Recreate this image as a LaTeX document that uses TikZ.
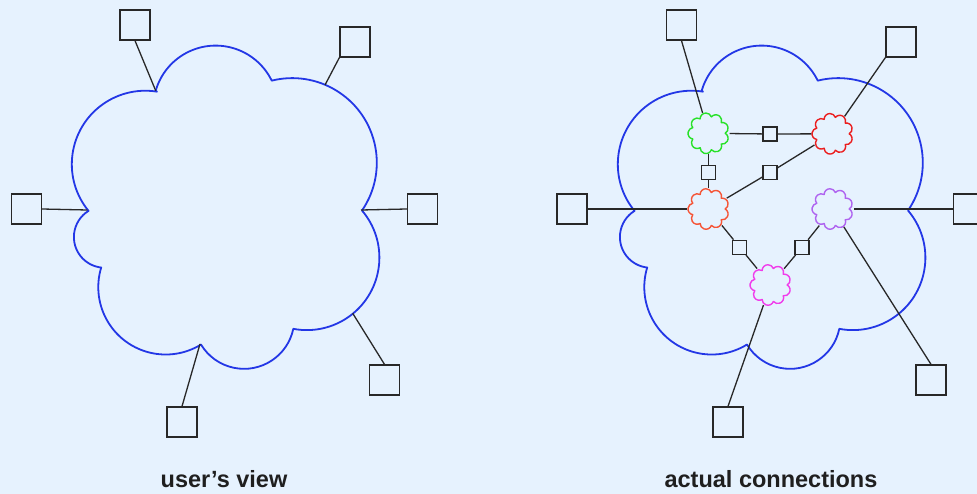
\documentclass[tikz,border=0pt]{standalone}
\usepackage{fontspec}
\setmainfont{Liberation Sans}
\definecolor{bg}{RGB}{230,242,254}
\definecolor{cloudblue}{RGB}{35,55,230}
\definecolor{cgreen}{RGB}{40,225,40}
\definecolor{cred}{RGB}{235,30,30}
\definecolor{corange}{RGB}{245,85,55}
\definecolor{cpurple}{RGB}{175,100,240}
\definecolor{cmagenta}{RGB}{240,60,235}
\definecolor{lineg}{RGB}{40,40,40}
\tikzset{
  bigsq/.style={draw=lineg, line width=1.3pt, minimum size=30pt, inner sep=0pt, fill=bg},
  smallsq/.style={draw=lineg, line width=1.3pt, minimum size=14pt, inner sep=0pt, fill=bg},
  hub/.style={circle, minimum size=42pt, inner sep=0pt},
  conn/.style={draw=lineg, line width=1.3pt},
  cloudline/.style={draw=cloudblue, line width=1.8pt, line join=round},
  label/.style={font=\bfseries\fontsize{23.5}{28}\selectfont, text=black!88, anchor=base, inner sep=0pt}
}
\newcommand\bigcloud[1]{%
  \draw[cloudline, shift={#1}] (155.7,90.7)
    arc[start angle=-163.9, end angle=-26.0, radius=62.4]
    arc[start angle=-104.0, end angle=34.4, radius=84.6]
    arc[start angle=-40.5, end angle=100.8, radius=72.5]
    arc[start angle=11.8, end angle=148.9, radius=50.3]
    arc[start angle=58.4, end angle=196.9, radius=67.4]
    arc[start angle=96.4, end angle=238.4, radius=30.7]
    arc[start angle=140.6, end angle=279.1, radius=73.5] -- cycle;}
\newcommand\smallcloud[2]{%
  \draw[#2, line width=1.4pt, line join=round, shift={(#1)}] (16.69,0)
    \foreach \k in {0,...,8}{ arc[start angle=40*\k-60, delta angle=160, radius=5.8] } -- cycle;}
\begin{document}
\begin{tikzpicture}[x=1pt, y=-1pt]
\useasboundingbox (0,0) rectangle (977,494);
\clip (0,0) rectangle (977,494);
\fill[bg] (0,0) rectangle (977,494);

% ---------- left: user's view ----------
\bigcloud{(0,0)}
\coordinate (a1) at (155.7,90.7);
\coordinate (a2) at (325,85);
\coordinate (a3) at (87.3,210);
\coordinate (a4) at (361,210);
\coordinate (a5) at (352.7,313.3);
\coordinate (a6) at (200,344);
\node[bigsq] (L1) at (135,25) {};
\node[bigsq] (L2) at (355,42) {};
\node[bigsq] (L3) at (26.5,209) {};
\node[bigsq] (L4) at (422.5,209) {};
\node[bigsq] (L5) at (384.5,380) {};
\node[bigsq] (L6) at (182,422) {};
\draw[conn] (L1.south) -- (a1);
\draw[conn] (L2.south west) -- (a2);
\draw[conn] (L3.east) -- (a3);
\draw[conn] (L4.west) -- (a4);
\draw[conn] (L5.north) -- (a5);
\draw[conn] (L6.north) -- (a6);
\node[label] (t1) at (224,487) {user’s view};

% ---------- right: actual connections ----------
\bigcloud{(546,0)}
\node[hub] (g) at (708.5,133.3) {};
\node[hub] (r) at (832.5,133.8) {};
\node[hub] (o) at (708.5,209) {};
\node[hub] (p) at (832.5,209) {};
\node[hub] (m) at (770.5,285) {};
\smallcloud{g}{cgreen}
\smallcloud{r}{cred}
\smallcloud{o}{corange}
\smallcloud{p}{cpurple}
\smallcloud{m}{cmagenta}

\node[smallsq] (q1) at (770,134) {};
\node[smallsq] (q2) at (708.5,172.5) {};
\node[smallsq] (q3) at (770,172.5) {};
\node[smallsq] (q4) at (739.7,247.3) {};
\node[smallsq] (q5) at (802,247.3) {};
\draw[conn] (g) -- (q1) -- (r);
\draw[conn] (g) -- (q2) -- (o);
\draw[conn] (r) -- (q3) -- (o);
\draw[conn] (o) -- (q4) -- (m);
\draw[conn] (p) -- (q5) -- (m);

\node[bigsq] (R1) at (681.5,25) {};
\node[bigsq] (R2) at (901,42) {};
\node[bigsq] (R3) at (572,209) {};
\node[bigsq] (R4) at (968.5,209) {};
\node[bigsq] (R5) at (931,380) {};
\node[bigsq] (R6) at (728,422) {};
\draw[conn] (R1.south) -- (g);
\draw[conn] (R2.south west) -- (r);
\draw[conn] (R3.east) -- (o);
\draw[conn] (R4.west) -- (p);
\draw[conn] (R5.north) -- (p);
\draw[conn] (R6.north) -- (m);
\node[label] (t2) at (771,487) {actual connections};
\end{tikzpicture}
\end{document}
